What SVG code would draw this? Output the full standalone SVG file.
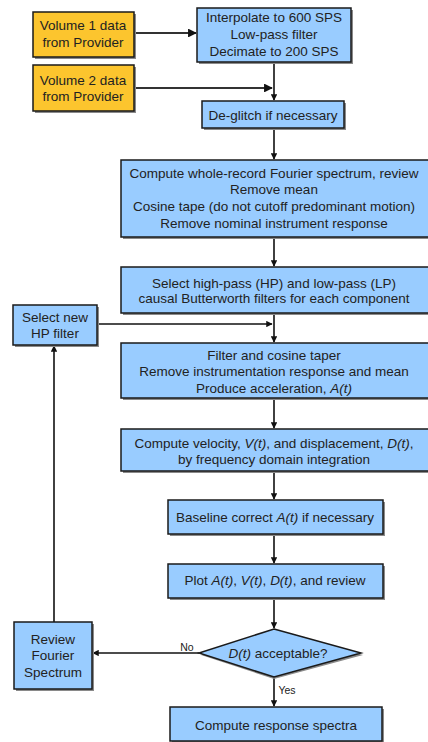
<svg xmlns="http://www.w3.org/2000/svg" width="428" height="742" viewBox="0 0 428 742">
<defs>
<marker id="ah" viewBox="0 0 10 10" refX="9" refY="5" markerWidth="4" markerHeight="4" orient="auto" markerUnits="strokeWidth">
<path d="M0,0 L10,5 L0,10 z" fill="#111"/>
</marker>
</defs>
<style>
.sh{fill:#8a8a8a}
.b{fill:#99CCFF;stroke:#1a1a1a;stroke-width:1.5}
.y{fill:#FCC52E;stroke:#1a1a1a;stroke-width:1.5}
text{font-family:"Liberation Sans",Arial,sans-serif;font-size:13.5px;fill:#222;text-anchor:middle}
.sm{font-size:10.5px}
.c{fill:none;stroke:#111;stroke-width:1.6;marker-end:url(#ah)}
.c2{fill:none;stroke:#333;stroke-width:2.2;marker-end:url(#ah)}
</style>
<rect width="428" height="742" fill="#fff"/>
<g id="connectors">
<path class="c2" d="M134,33 H196"/>
<path class="c2" d="M134,88 H272"/>
<path class="c" d="M274,62 V100"/>
<path class="c" d="M274,128 V159"/>
<path class="c" d="M274,237 V266"/>
<path class="c" d="M274,313 V342"/>
<path class="c" d="M97,324 H272"/>
<path class="c" d="M274,398 V428"/>
<path class="c" d="M274,471 V499"/>
<path class="c" d="M274,534 V563"/>
<path class="c" d="M274,598 V628"/>
<path class="c" d="M199,653 H93"/>
<path class="c" d="M54,622 V346"/>
<path class="c" d="M274,677 V706"/>
<text class="sm" x="187" y="651">No</text>
<text class="sm" x="287" y="694">Yes</text>
</g>
<g id="vol1">
<rect class="sh" x="35" y="14" width="101" height="45"/>
<rect class="y" x="33" y="12" width="101" height="45"/>
<text x="83" y="30">Volume 1 data</text>
<text x="83" y="47">from Provider</text>
</g>
<g id="vol2">
<rect class="sh" x="35" y="67" width="101" height="46"/>
<rect class="y" x="33" y="65" width="101" height="46"/>
<text x="83" y="85">Volume 2 data</text>
<text x="83" y="101">from Provider</text>
</g>
<g id="interp">
<rect class="sh" x="199" y="10" width="154" height="54"/>
<rect class="b" x="197" y="8" width="154" height="54"/>
<text x="274" y="22">Interpolate to 600 SPS</text>
<text x="274" y="39">Low-pass filter</text>
<text x="274" y="56">Decimate to 200 SPS</text>
</g>
<g id="deglitch">
<rect class="sh" x="204" y="103" width="142" height="27"/>
<rect class="b" x="202" y="101" width="142" height="27"/>
<text x="273" y="120">De-glitch if necessary</text>
</g>
<g id="fourier">
<rect class="sh" x="123" y="162" width="320" height="77"/>
<rect class="b" x="121" y="160" width="320" height="77"/>
<text x="274" y="178">Compute whole-record Fourier spectrum, review</text>
<text x="274" y="194">Remove mean</text>
<text x="274" y="211">Cosine tape (do not cutoff predominant motion)</text>
<text x="274" y="228">Remove nominal instrument response</text>
</g>
<g id="select">
<rect class="sh" x="123" y="269" width="320" height="46"/>
<rect class="b" x="121" y="267" width="320" height="46"/>
<text x="274" y="288">Select high-pass (HP) and low-pass (LP)</text>
<text x="274" y="303">causal Butterworth filters for each component</text>
</g>
<g id="newhp">
<rect class="sh" x="15" y="307" width="84" height="40"/>
<rect class="b" x="13" y="305" width="84" height="40"/>
<text x="55" y="322">Select new</text>
<text x="55" y="338">HP filter</text>
</g>
<g id="filter">
<rect class="sh" x="123" y="345" width="320" height="55"/>
<rect class="b" x="121" y="343" width="320" height="55"/>
<text x="274" y="360">Filter and cosine taper</text>
<text x="274" y="376">Remove instrumentation response and mean</text>
<text x="274" y="393">Produce acceleration, <tspan font-style="italic">A(t)</tspan></text>
</g>
<g id="velocity">
<rect class="sh" x="123" y="431" width="320" height="42"/>
<rect class="b" x="121" y="429" width="320" height="42"/>
<text x="274" y="448">Compute velocity, <tspan font-style="italic">V(t)</tspan>, and displacement, <tspan font-style="italic">D(t)</tspan>,</text>
<text x="274" y="464">by frequency domain integration</text>
</g>
<g id="baseline">
<rect class="sh" x="170" y="502" width="215" height="34"/>
<rect class="b" x="168" y="500" width="215" height="34"/>
<text x="275" y="522">Baseline correct <tspan font-style="italic">A(t)</tspan> if necessary</text>
</g>
<g id="plot">
<rect class="sh" x="170" y="566" width="215" height="34"/>
<rect class="b" x="168" y="564" width="215" height="34"/>
<text x="275" y="585">Plot <tspan font-style="italic">A(t)</tspan>, <tspan font-style="italic">V(t)</tspan>, <tspan font-style="italic">D(t)</tspan>, and review</text>
</g>
<g id="decision">
<polygon points="274,631 363,655 274,679 201,655" fill="#8a8a8a"/>
<polygon class="b" points="274,629 361,653 274,677 199,653"/>
<text x="278" y="658"><tspan font-style="italic">D(t)</tspan> acceptable?</text>
</g>
<g id="review">
<rect class="sh" x="16" y="624" width="78" height="67"/>
<rect class="b" x="14" y="622" width="78" height="67"/>
<text x="53" y="644">Review</text>
<text x="53" y="660">Fourier</text>
<text x="53" y="677">Spectrum</text>
</g>
<g id="response">
<rect class="sh" x="172" y="709" width="212" height="34"/>
<rect class="b" x="170" y="707" width="212" height="34"/>
<text x="276" y="730">Compute response spectra</text>
</g>
</svg>
